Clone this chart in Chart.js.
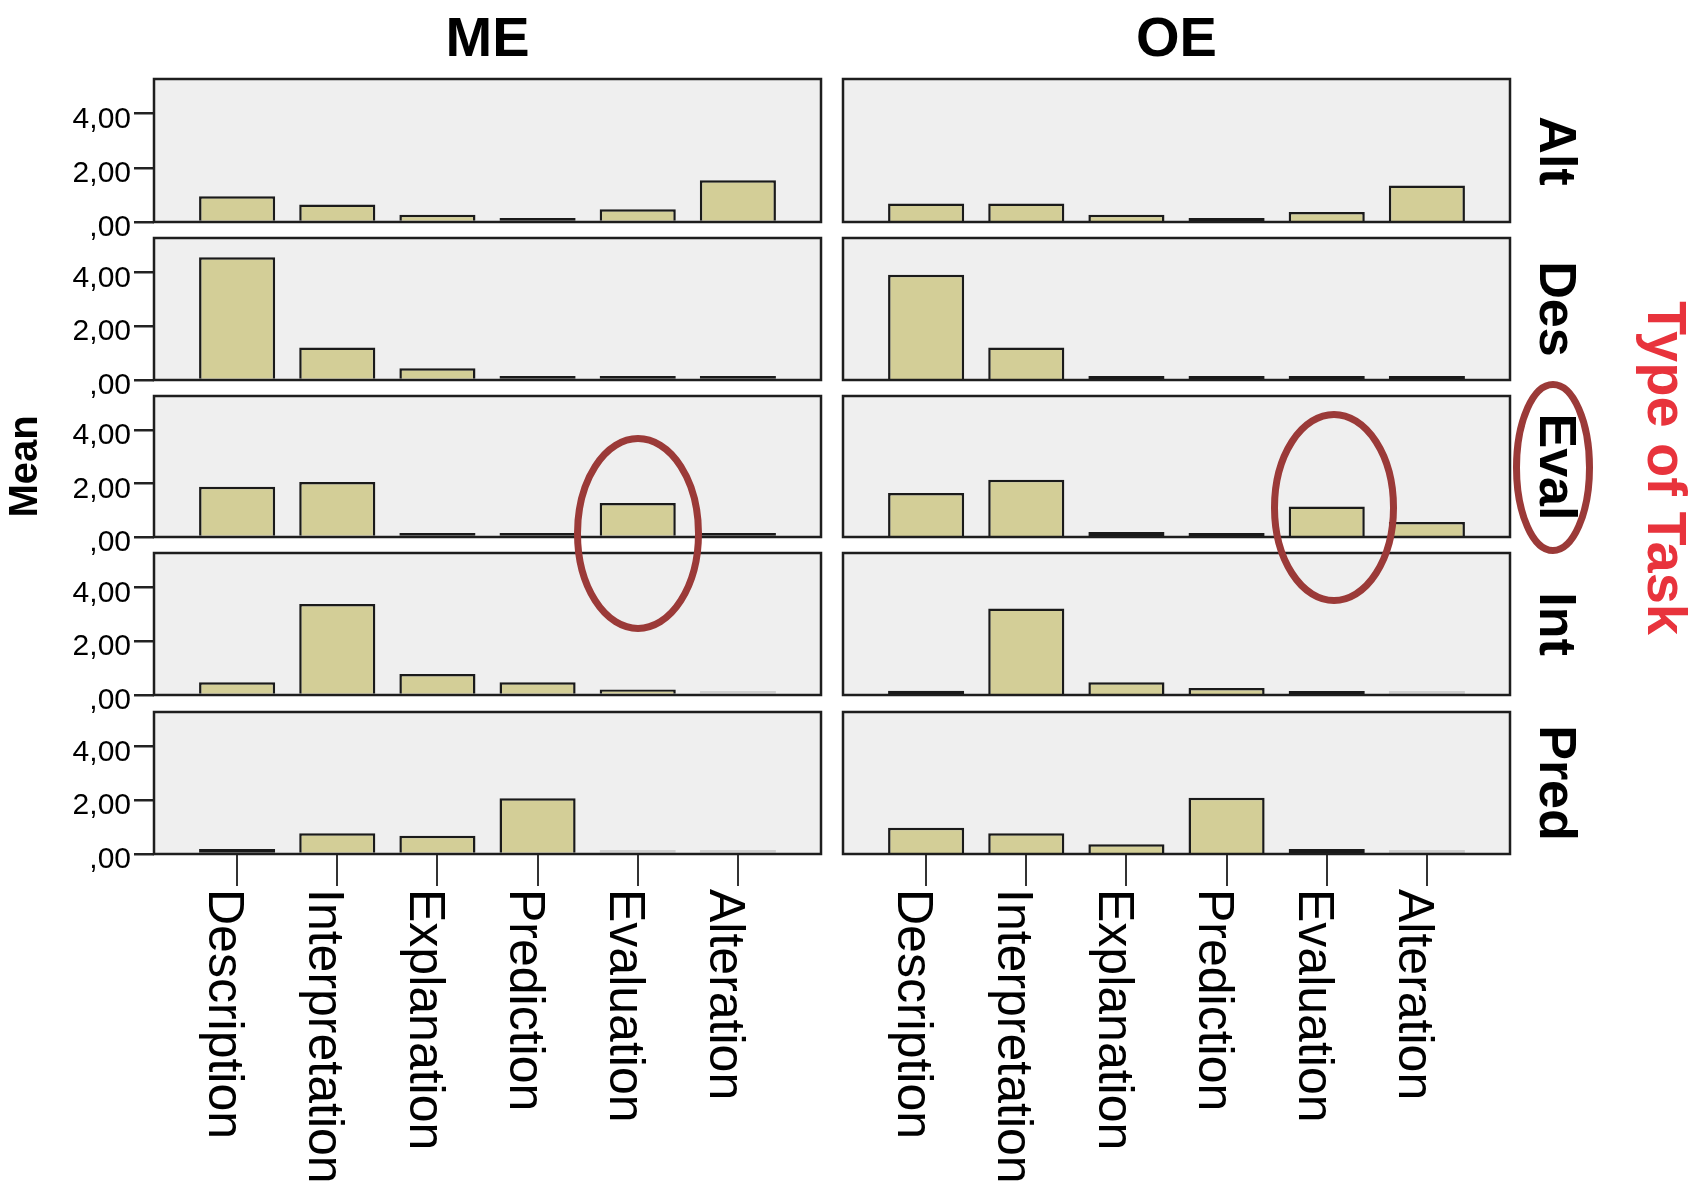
<!DOCTYPE html>
<html>
<head>
<meta charset="utf-8">
<script src="https://cdn.jsdelivr.net/npm/chart.js@4/dist/chart.umd.min.js"></script>
<style>
html,body{margin:0;padding:0;background:#fff;}
#page{position:relative;width:1696px;height:1182px;overflow:hidden;font-family:"Liberation Sans",Arial,sans-serif;background:#fff;}
#page canvas{position:absolute;}
.t{position:absolute;white-space:nowrap;color:#000;font-weight:bold;}
.col{transform:translateX(-50%);font-size:56px;line-height:56px;top:9px;}
.rot{transform:translate(-50%,-50%) rotate(90deg);line-height:1;}
.row{font-size:52px;}
.task{font-size:56px;color:#e8333c;}
#marks{position:absolute;left:0;top:0;pointer-events:none;}
</style>
</head>
<body>
<div id="page"></div>
<script>
// ---- data ----
const categories = ['Description','Interpretation','Explanation','Prediction','Evaluation','Alteration'];
const groups = ['ME','OE'];
const taskTypes = ['Alt','Des','Eval','Int','Pred'];

const meAlt  = [0.95, 0.65, 0.27, 0.08, 0.47, 1.54];
const meDes  = [4.56, 1.21, 0.44, 0.05, 0.05, 0.05];
const meEval = [1.88, 2.06, 0.12, 0.12, 1.27, 0.06];
const meInt  = [0.47, 3.38, 0.78, 0.47, 0.20, 0.00];
const mePred = [0.19, 0.77, 0.68, 2.07, 0.00, 0.00];

const oeAlt  = [0.68, 0.68, 0.27, 0.08, 0.37, 1.35];
const oeDes  = [3.91, 1.21, 0.05, 0.15, 0.07, 0.05];
const oeEval = [1.65, 2.14, 0.19, 0.15, 1.14, 0.56];
const oeInt  = [0.16, 3.22, 0.47, 0.26, 0.10, 0.00];
const oePred = [0.98, 0.77, 0.36, 2.09, 0.19, 0.00];

const yTickValues = [0, 2, 4];
const yTickLabels = [',00', '2,00', '4,00'];
const yAxisTitle = 'Mean';
const rowAxisTitle = 'Type of Task';

// table built from the arrays: [group][task]
const facetValues = [
  [meAlt, meDes, meEval, meInt, mePred],
  [oeAlt, oeDes, oeEval, oeInt, oePred]
];

// ---- layout / style ----
const colLeft = [154, 843];
const colRight = [821, 1510];
const rowTop = [79, 238, 396, 553, 712];
const rowBottom = [222, 380, 537, 695, 854];
const PAGE_H = 1182;
const BELOW = 26;
const yMax = 5.28;
const xMin = -0.83, xMax = 5.83;
const FONT = '"Liberation Sans", Arial, sans-serif';
const barFill = '#d3ce97';
const barEdge = '#1a1a1a';
const zeroEdge = '#cfcfcf';

Chart.defaults.font.family = FONT;
Chart.defaults.color = '#000';

const panelPlugin = {
  id: 'panel',
  beforeDraw(chart) {
    const {ctx, chartArea: a} = chart;
    ctx.save();
    ctx.fillStyle = '#efefef';
    ctx.fillRect(a.left, a.top, a.right - a.left, a.bottom - a.top);
    ctx.restore();
  },
  afterDatasetsDraw(chart) {
    const {ctx, chartArea: a} = chart;
    ctx.save();
    ctx.strokeStyle = '#1e1e1e';
    ctx.lineWidth = 2.5;
    ctx.strokeRect(a.left, a.top, a.right - a.left, a.bottom - a.top);
    ctx.restore();
  }
};

const xLabelPlugin = {
  id: 'xLabels',
  afterDraw(chart, args, opts) {
    if (!opts.show) return;
    const {ctx, chartArea: a} = chart;
    const xs = chart.scales.x;
    ctx.save();
    ctx.fillStyle = '#000';
    ctx.font = '50px ' + FONT;
    ctx.textAlign = 'left';
    ctx.textBaseline = 'middle';
    categories.forEach((lab, i) => {
      const px = xs.getPixelForValue(i);
      ctx.save();
      ctx.translate(px - 14, a.bottom + 35);
      ctx.rotate(Math.PI / 2);
      ctx.fillText(lab, 0, 0);
      ctx.restore();
    });
    ctx.restore();
  }
};

const page = document.getElementById('page');

groups.forEach((g, c) => {
  taskTypes.forEach((task, r) => {
    const isLeft = c === 0;
    const isBottom = r === taskTypes.length - 1;
    const canvasLeft = isLeft ? 0 : colLeft[c] - 4;
    const canvasTop = rowTop[r] - 4;
    const w = colRight[c] + 4 - canvasLeft;
    const h = isBottom ? PAGE_H - canvasTop : rowBottom[r] + BELOW - canvasTop;
    const cv = document.createElement('canvas');
    cv.width = w; cv.height = h;
    cv.style.left = canvasLeft + 'px';
    cv.style.top = canvasTop + 'px';
    cv.style.width = w + 'px';
    cv.style.height = h + 'px';
    page.appendChild(cv);

    const vals = facetValues[c][r];
    new Chart(cv, {
      type: 'bar',
      data: {
        datasets: [{
          data: vals.map((v, i) => ({x: i, y: v})),
          backgroundColor: barFill,
          borderColor: ctx => (ctx.raw && ctx.raw.y === 0) ? zeroEdge : barEdge,
          borderWidth: 2.5,
          borderSkipped: ctx => (ctx.raw && ctx.raw.y < 0.2) ? false : 'start',
          minBarLength: 4,
          categoryPercentage: 1,
          barPercentage: 0.76
        }]
      },
      options: {
        responsive: false,
        animation: false,
        devicePixelRatio: 1,
        layout: {padding: {top: 4, right: 4, left: isLeft ? 0 : 4, bottom: isBottom ? 0 : BELOW}},
        plugins: {legend: {display: false}, tooltip: {enabled: false}, xLabels: {show: isBottom}},
        scales: {
          x: {
            type: 'linear',
            min: xMin, max: xMax,
            offset: false,
            display: isBottom,
            afterBuildTicks: s => { s.ticks = categories.map((_, i) => ({value: i})); },
            afterFit: s => {
              if (isBottom) s.height = PAGE_H - rowBottom[r];
              s.paddingLeft = 0; s.paddingRight = 0;
            },
            grid: {display: true, offset: false, drawOnChartArea: false, drawTicks: true, tickLength: 32, color: '#333', lineWidth: 2},
            border: {display: false},
            ticks: {display: false}
          },
          y: {
            min: 0, max: yMax,
            display: isLeft,
            afterBuildTicks: s => { s.ticks = yTickValues.map(v => ({value: v})); },
            afterFit: s => {
              if (isLeft) s.width = colLeft[0];
              s.paddingTop = 0; s.paddingBottom = 0;
            },
            grid: {display: true, drawOnChartArea: false, drawTicks: true, tickLength: 20, color: '#222', lineWidth: 2.5},
            border: {display: false},
            ticks: {
              color: '#000',
              font: {size: 30, family: FONT},
              padding: 3,
              labelOffset: 6,
              callback: v => yTickLabels[yTickValues.indexOf(v)]
            },
            title: {
              display: isLeft && r === 2,
              text: yAxisTitle,
              color: '#000',
              font: {size: 40, weight: 'bold', family: FONT},
              padding: {top: 2, bottom: 0}
            }
          }
        }
      },
      plugins: [panelPlugin, xLabelPlugin]
    });
  });
});

// column titles
groups.forEach((g, c) => {
  const d = document.createElement('div');
  d.className = 't col';
  d.textContent = g;
  d.style.left = ((colLeft[c] + colRight[c]) / 2) + 'px';
  page.appendChild(d);
});

// row titles
taskTypes.forEach((t, r) => {
  const d = document.createElement('div');
  d.className = 't rot row';
  d.textContent = t;
  d.style.left = '1558px';
  d.style.top = ((rowTop[r] + rowBottom[r]) / 2) + 'px';
  page.appendChild(d);
});

const tt = document.createElement('div');
tt.className = 't rot task';
tt.textContent = rowAxisTitle;
tt.style.left = '1667px';
tt.style.top = '468px';
page.appendChild(tt);

// hand-drawn highlight ellipses
const svgNS = 'http://www.w3.org/2000/svg';
const svg = document.createElementNS(svgNS, 'svg');
svg.setAttribute('id', 'marks');
svg.setAttribute('width', '1696');
svg.setAttribute('height', '1182');
[[638, 533.5, 60.5, 95], [1334, 507.5, 59.5, 93], [1553, 467.5, 36.5, 83]].forEach(e => {
  const el = document.createElementNS(svgNS, 'ellipse');
  el.setAttribute('cx', e[0]); el.setAttribute('cy', e[1]);
  el.setAttribute('rx', e[2]); el.setAttribute('ry', e[3]);
  el.setAttribute('fill', 'none');
  el.setAttribute('stroke', '#9b3a38');
  el.setAttribute('stroke-width', '7');
  svg.appendChild(el);
});
page.appendChild(svg);
</script>
</body>
</html>
